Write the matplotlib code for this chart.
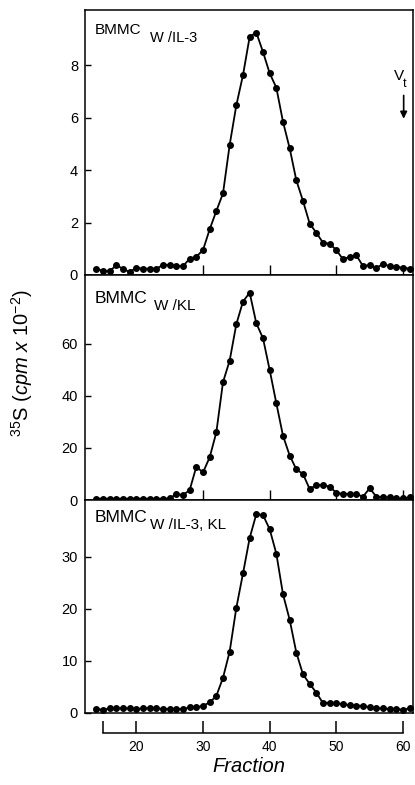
import matplotlib
matplotlib.use("Agg")
import matplotlib.pyplot as plt

plt.rcParams['font.family'] = ['Liberation Sans', 'DejaVu Sans']
plt.rcParams['mathtext.fontset'] = 'custom'
plt.rcParams['mathtext.rm'] = 'Liberation Sans'
plt.rcParams['mathtext.it'] = 'Liberation Sans:italic'

# fractions 14..61, one point each
fractions = list(range(14, 62))

il3 = [0.24, 0.15, 0.15, 0.37, 0.24, 0.11, 0.28, 0.24, 0.24, 0.24,
       0.38, 0.38, 0.34, 0.34, 0.62, 0.70, 0.95, 1.74, 2.44, 3.11,
       4.96, 6.47, 7.62, 9.08, 9.24, 8.50, 7.69, 7.14, 5.84, 4.83,
       3.61, 2.82, 1.96, 1.61, 1.23, 1.19, 0.95, 0.60, 0.69, 0.75,
       0.34, 0.38, 0.28, 0.41, 0.34, 0.30, 0.28, 0.24]

kl = [0.5, 0.5, 0.5, 0.5, 0.5, 0.5, 0.5, 0.5, 0.5, 0.5,
      0.5, 0.6, 2.3, 1.9, 3.8, 12.8, 10.6, 16.4, 26.0, 45.3,
      53.6, 67.6, 76.3, 79.7, 67.9, 62.2, 50.0, 37.2, 24.7, 17.1,
      11.8, 10.0, 4.2, 5.8, 5.8, 5.1, 2.8, 2.3, 2.3, 2.3,
      1.3, 4.5, 1.3, 1.0, 1.0, 0.6, 0.6, 1.0]

il3_kl = [0.76, 0.63, 0.88, 0.88, 0.88, 0.88, 0.76, 0.88, 0.88, 0.88,
          0.76, 0.76, 0.76, 0.76, 1.07, 1.07, 1.39, 2.02, 3.28, 6.76,
          11.8, 20.2, 26.8, 33.6, 38.2, 38.0, 35.3, 30.6, 22.8, 17.9,
          11.6, 7.4, 5.6, 3.9, 1.9, 2.0, 1.9, 1.7, 1.5, 1.4,
          1.4, 1.1, 0.88, 0.88, 0.76, 0.76, 0.63, 0.88]

# data, subscript, ylim, yticks, (title offset px, BMMC size, sub size, sub x px)
panels = [
    (il3, "W /IL-3", (0, 10.1), [0, 2, 4, 6, 8], (13, 11, 10.5, 150)),
    (kl, "W /KL", (0, 86.5), [0, 20, 40, 60], (16, 12.5, 11, 154)),
    (il3_kl, "W /IL-3, KL", (0, 40.9), [0, 10, 20, 30], (10, 12.5, 11, 150)),
]

W, H = 415, 785
fig = plt.figure(figsize=(W / 100, H / 100), dpi=100)

left = 85 / W
width = (413 - 85) / W
edges = [10, 275, 500, 713]
xlim = (12.3, 61.5)

axes = []
for i, (vals, sub, ylim, yticks, (toff, fs_main, fs_sub, sub_px)) in enumerate(panels):
    top_px, bot_px = edges[i], edges[i + 1]
    hpx = bot_px - top_px
    ax = fig.add_axes([left, 1 - bot_px / H, width, hpx / H])
    ax.plot(fractions, vals, color='black', lw=1.3, marker='o', ms=4.0,
            clip_on=False, zorder=3)
    ax.set_xlim(xlim)
    ax.set_ylim(ylim)
    ax.set_yticks(yticks)
    ax.tick_params(axis='y', direction='in', length=4, width=1, labelsize=10.5, pad=5)
    if i < 2:
        ax.set_xticks([30, 40, 50, 60])
        ax.tick_params(axis='x', direction='in', length=7, width=1, labelbottom=False)
    else:
        ax.set_xticks([])
    for s in ax.spines.values():
        s.set_linewidth(1.1)
    # title: BMMC with lowered subscript
    ax.text(10 / 328, 1 - toff / hpx, "BMMC", transform=ax.transAxes,
            fontsize=fs_main, va='top', ha='left')
    ax.text((sub_px - 85) / 328, 1 - (toff + 8) / hpx, sub, transform=ax.transAxes,
            fontsize=fs_sub, va='top', ha='left')
    axes.append(ax)

# V_t marker on the top panel
axes[0].text(58.6, 7.3, "V", fontsize=11, ha='left', va='bottom')
axes[0].text(60.0, 7.05, "t", fontsize=9, ha='left', va='bottom')
axes[0].annotate("", xy=(60.1, 5.85), xytext=(60.1, 6.95),
                 arrowprops=dict(arrowstyle='-|>', color='black', lw=1.2,
                                 mutation_scale=10))

# detached fraction axis below the panels
xax = fig.add_axes([left, 1 - 733 / H, width, 12 / H])
xax.set_xlim(xlim)
xax.set_ylim(0, 1)
xax.patch.set_visible(False)
for name in ['top', 'left', 'right']:
    xax.spines[name].set_visible(False)
xax.spines['bottom'].set_bounds(15, 60)
xax.spines['bottom'].set_linewidth(1.1)
xax.set_yticks([])
xax.set_xticks([15, 20, 30, 40, 50, 60])
xax.set_xticklabels(["", "20", "30", "40", "50", "60"])
xax.tick_params(axis='x', direction='in', length=9, width=1.1, labelsize=10, pad=5)
xax.set_xlabel("Fraction", fontsize=14.5, style='italic', labelpad=2)

fig.text(22 / W, 1 - 363 / H,
         r"$^{35}$S $\mathit{(cpm\ x\ 10^{-2})}$",
         rotation=90, ha='center', va='center', fontsize=14.5)

fig.savefig("out.png", dpi=100)
